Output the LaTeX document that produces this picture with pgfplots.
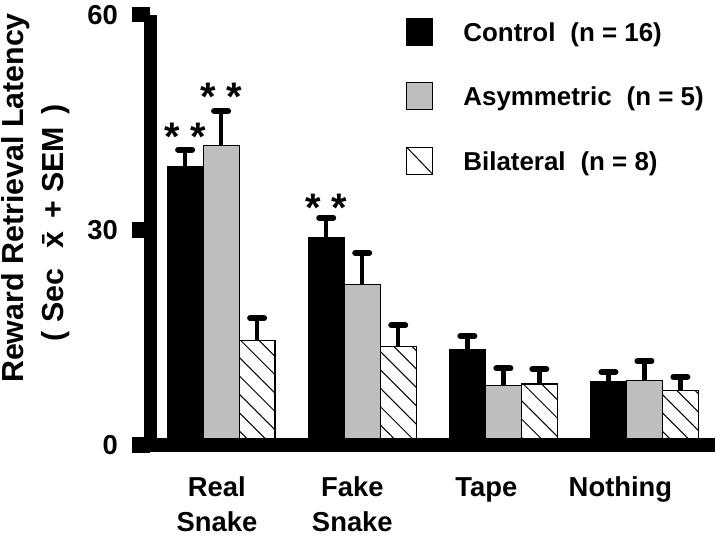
\documentclass[border=0pt]{standalone}
\usepackage{pgfplots}
\pgfplotsset{compat=1.18}
\usetikzlibrary{patterns.meta}
\usepackage{fontspec}
\setmainfont{Liberation Sans}
\definecolor{bargray}{RGB}{190,190,190}
\pgfplotsset{
  sqlegend/.style={legend image code/.code={\draw[##1, line width=1.2bp] (0bp,-13.5bp) rectangle (26bp,13.5bp);}},
  hatchlegend/.style={legend image code/.code={\draw[line width=1.2bp, fill=white] (0bp,-13.5bp) rectangle (26bp,13.5bp); \draw[line width=1bp] (0bp,13.5bp) -- (26bp,-13.5bp);}},
}
\begin{document}
\begin{tikzpicture}
\useasboundingbox (0,0) rectangle (720bp,541bp);
\begin{axis}[
  at={(150bp,96bp)}, anchor=south west,
  scale only axis, width=565bp, height=430bp,
  xmin=-0.504, xmax=3.5, ymin=0, ymax=60,
  axis lines=left,
  axis line style={-, line width=13bp, black},
  axis on top,
  clip=false,
  ytick={0,30,60},
  tick align=outside,
  major tick length=18bp,
  ytick style={line width=15bp, black},
  xtick={-0.03,0.93,1.88,2.83},
  xticklabels={\strut Real\\Snake, \strut Fake\\Snake, \strut Tape, \strut Nothing},
  xtick style={draw=none},
  xticklabel style={font=\fontsize{27.5}{35}\selectfont\bfseries, align=center, anchor=north, inner sep=0pt, yshift=-8.7bp},
  yticklabel style={font=\fontsize{27.5}{27.5}\selectfont\bfseries, anchor=east, inner sep=0pt, text height=19.5bp, text depth=0pt, xshift=-14bp},
  /pgf/number format/assume math mode=true,
  ybar, bar width=0.255,
  error bars/y dir=plus, error bars/y explicit,
  error bars/error mark=|,
  error bars/error bar style={line width=4.5bp, black, solid},
  error bars/error mark options={line width=6bp, mark size=7bp, black, line cap=round, solid},
  legend style={at={(0.4531,0.994)}, anchor=north west, draw=none, fill=none, inner sep=0pt,
    row sep=36.3bp, column sep=30bp,
    font=\fontsize{26}{26}\selectfont\bfseries,
    nodes={inner sep=0pt, text height=18.6bp, text depth=0pt}},
  legend cell align=left,
]
\addplot[fill=black, draw=black, line width=1.2bp, bar shift=-0.255, sqlegend]
  coordinates {(0,38.9) +- (0,2.3) (1,29.0) +- (0,2.7) (2,13.3) +- (0,1.9) (3,8.8) +- (0,1.4)};
\addplot[fill=bargray, draw=black, line width=1.2bp, bar shift=0, sqlegend]
  coordinates {(0,41.8) +- (0,4.8) (1,22.4) +- (0,4.4) (2,8.3) +- (0,2.4) (3,9.0) +- (0,2.7)};
\addplot[draw=black, line width=1.2bp, bar shift=0.255, pattern={Lines[angle=-45,distance=13bp,line width=1bp]}, pattern color=black, hatchlegend]
  coordinates {(0,14.6) +- (0,3.1) (1,13.7) +- (0,3.0) (2,8.5) +- (0,2.1) (3,7.6) +- (0,1.9)};
\legend{Control\hspace{15bp}(n = 16), Asymmetric\hspace{15bp}(n = 5), Bilateral\hspace{15bp}(n = 8)}
\node[anchor=north, inner sep=0pt, font=\fontsize{40}{40}\selectfont\bfseries] at (axis cs:-0.255,45.0) {*\hspace{10bp}*};
\node[anchor=north, inner sep=0pt, font=\fontsize{40}{40}\selectfont\bfseries] at (axis cs:0,50.5) {*\hspace{10bp}*};
\node[anchor=north, inner sep=0pt, font=\fontsize{40}{40}\selectfont\bfseries] at (axis cs:0.745,35.1) {*\hspace{10bp}*};
\end{axis}
\node[rotate=90, anchor=base, font=\fontsize{30.5}{30.5}\selectfont\bfseries] at (23bp,343bp) {Reward Retrieval Latency};
\node[rotate=90, anchor=base, font=\fontsize{30.5}{30.5}\selectfont\bfseries] at (63bp,318bp) {(\hspace{9bp}Sec\hspace{20bp}\={x}\hspace{13bp}+\hspace{8bp}SEM\hspace{12bp})};
\end{tikzpicture}
\end{document}
